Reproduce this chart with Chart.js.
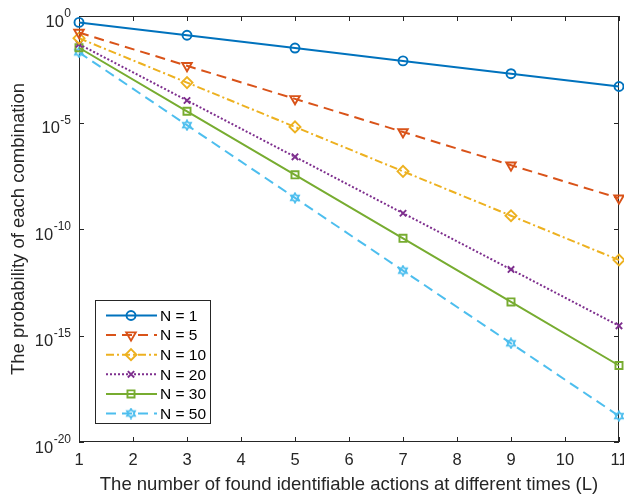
<!DOCTYPE html>
<html>
<head>
<meta charset="utf-8">
<script src="https://cdn.jsdelivr.net/npm/chart.js@4.4.0/dist/chart.umd.min.js"></script>
<style>
  html, body { margin: 0; padding: 0; background: #fff; }
  #wrap { width: 624px; height: 496px; }
</style>
</head>
<body>
<div id="wrap"><canvas id="chart" width="624" height="496"></canvas></div>
<script>
// --- data ---
const lValues = [1, 3, 5, 7, 9, 11];
const xTickValues = [1, 2, 3, 4, 5, 6, 7, 8, 9, 10, 11];
const yTickValues = [1, 1e-5, 1e-10, 1e-15, 1e-20];
const seriesNames = ['N = 1', 'N = 5', 'N = 10', 'N = 20', 'N = 30', 'N = 50'];

const probN1  = [0.5, 0.125, 0.0313, 7.8e-3, 1.95e-3, 4.9e-4];
const probN5  = [0.167, 4.6e-3, 1.29e-4, 3.6e-6, 9.9e-8, 2.8e-9];
const probN10 = [0.0909, 7.5e-4, 6.2e-6, 5.1e-8, 4.2e-10, 3.5e-12];
const probN20 = [0.0476, 1.08e-4, 2.45e-7, 5.5e-10, 1.26e-12, 2.85e-15];
const probN30 = [0.0323, 3.36e-5, 3.5e-8, 3.64e-11, 3.78e-14, 3.9e-17];
const probN50 = [0.0196, 7.5e-6, 2.9e-9, 1.11e-12, 4.3e-16, 1.65e-19];

const FONT = "'Liberation Sans', Arial, Helvetica, sans-serif";
const AXIS_COLOR = '#262626';

// hexagram marker (MATLAB 'h') as an image for pointStyle
function hexagram(color) {
  const c = document.createElement('canvas');
  c.width = 12; c.height = 12;
  const g = c.getContext('2d');
  g.strokeStyle = color;
  g.lineWidth = 1.8;
  g.beginPath();
  for (let i = 0; i < 12; i++) {
    const r = (i % 2 === 0) ? 4.6 : 2.7;
    const a = -Math.PI / 2 + i * Math.PI / 6;
    const px = 6 + r * Math.cos(a), py = 6 + r * Math.sin(a);
    if (i === 0) g.moveTo(px, py); else g.lineTo(px, py);
  }
  g.closePath();
  g.stroke();
  return c;
}

const styles = [
  { color: '#0072BD', dash: [],           point: 'circle',   radius: 4.5, rot: 0 },
  { color: '#D95319', dash: [10, 6],      point: 'triangle', radius: 5.5, rot: 180 },
  { color: '#EDB120', dash: [8, 3, 2, 3], point: 'rectRot',  radius: 5.5, rot: 0 },
  { color: '#7E2F8E', dash: [2, 2],       point: 'crossRot', radius: 4.5, rot: 0 },
  { color: '#77AC30', dash: [],           point: 'rect',     radius: 5,   rot: 0 },
  { color: '#4DBEEE', dash: [10, 6],      point: hexagram('#4DBEEE'), radius: 5, rot: 0 }
];
const allSeries = [probN1, probN5, probN10, probN20, probN30, probN50];

const datasets = allSeries.map((vals, i) => ({
  label: seriesNames[i],
  data: lValues.map((l, k) => ({ x: l, y: vals[k] })),
  borderColor: styles[i].color,
  backgroundColor: 'rgba(0,0,0,0)',
  borderWidth: 2,
  borderDash: styles[i].dash,
  pointStyle: styles[i].point,
  pointRadius: styles[i].radius,
  pointRotation: styles[i].rot,
  pointBorderWidth: 1.9,
  pointBorderColor: styles[i].color,
  pointBackgroundColor: 'rgba(0,0,0,0)',
  tension: 0,
  clip: false
}));

// frame, inward ticks, superscript y labels and a MATLAB-like legend
const matlabAxes = {
  id: 'matlabAxes',
  beforeDatasetsDraw(chart) {
    const { ctx, chartArea: a, scales } = chart;
    ctx.save();
    ctx.strokeStyle = AXIS_COLOR;
    ctx.lineWidth = 1;
    ctx.strokeRect(Math.round(a.left) + 0.5, Math.round(a.top) + 0.5,
                   Math.round(a.right - a.left) - 1, Math.round(a.bottom - a.top) - 1);
    ctx.beginPath();
    xTickValues.forEach(v => {
      const x = Math.round(scales.x.getPixelForValue(v)) + 0.5;
      ctx.moveTo(x, a.bottom); ctx.lineTo(x, a.bottom - 5);
      ctx.moveTo(x, a.top); ctx.lineTo(x, a.top + 5);
    });
    yTickValues.forEach(v => {
      const y = Math.round(scales.y.getPixelForValue(v)) + 0.5;
      ctx.moveTo(a.left, y); ctx.lineTo(a.left + 5, y);
      ctx.moveTo(a.right, y); ctx.lineTo(a.right - 5, y);
    });
    ctx.stroke();

    // y tick labels: 10 with superscript exponent
    ctx.fillStyle = AXIS_COLOR;
    ctx.textAlign = 'left';
    ctx.textBaseline = 'alphabetic';
    yTickValues.forEach(v => {
      const y = scales.y.getPixelForValue(v);
      const exp = String(Math.round(Math.log10(v)));
      ctx.font = '12px ' + FONT;
      const ew = ctx.measureText(exp).width;
      const ex = 71 - ew;
      ctx.fillText(exp, ex, y + 1);
      ctx.font = '16.5px ' + FONT;
      const bw = ctx.measureText('10').width;
      ctx.fillText('10', ex - bw - 0.5, y + 10.5);
    });
    ctx.restore();
  },
  afterDraw(chart) {
    const { ctx } = chart;
    ctx.save();
    // legend box
    ctx.fillStyle = '#fff';
    ctx.fillRect(95.5, 300.5, 115, 123);
    ctx.strokeStyle = AXIS_COLOR;
    ctx.lineWidth = 1;
    ctx.strokeRect(95.5, 300.5, 115, 123);
    chart.data.datasets.forEach((ds, i) => {
      const y = 315.5 + i * 19.6;
      ctx.strokeStyle = ds.borderColor;
      ctx.lineWidth = 2;
      ctx.setLineDash(ds.borderDash);
      ctx.beginPath();
      ctx.moveTo(106, y); ctx.lineTo(157, y);
      ctx.stroke();
      ctx.setLineDash([]);
      ctx.fillStyle = 'rgba(0,0,0,0)';
      ctx.lineWidth = ds.pointBorderWidth;
      Chart.helpers.drawPoint(ctx, {
        pointStyle: ds.pointStyle, rotation: ds.pointRotation,
        radius: ds.pointRadius, borderWidth: ds.pointBorderWidth
      }, 131, y);
      ctx.fillStyle = '#000';
      ctx.font = '15.5px ' + FONT;
      ctx.textAlign = 'left';
      ctx.textBaseline = 'middle';
      ctx.fillText(ds.label, 160, y + 1);
    });
    ctx.restore();
  }
};

new Chart(document.getElementById('chart'), {
  type: 'line',
  data: { datasets },
  plugins: [matlabAxes],
  options: {
    responsive: false,
    animation: false,
    devicePixelRatio: 1,
    layout: { autoPadding: false, padding: { left: 0, right: 5, top: 16, bottom: 0 } },
    plugins: { legend: { display: false }, tooltip: { enabled: false } },
    scales: {
      x: {
        type: 'linear', min: 1, max: 11,
        afterBuildTicks: s => { s.ticks = xTickValues.map(v => ({ value: v })); },
        grid: { display: false, drawTicks: false },
        border: { display: false },
        ticks: { color: AXIS_COLOR, font: { size: 16.5, family: FONT }, padding: 9, maxRotation: 0, autoSkip: false },
        title: {
          display: true,
          text: 'The number of found identifiable actions at different times (L)',
          color: AXIS_COLOR, font: { size: 18.5, family: FONT }, padding: { top: 0, bottom: 0 }
        },
        afterFit: s => { s.height = 54; s.paddingLeft = 0; s.paddingRight = 0; }
      },
      y: {
        type: 'logarithmic', min: 1e-20, max: 1,
        afterBuildTicks: s => { s.ticks = yTickValues.map(v => ({ value: v })); },
        grid: { display: false, drawTicks: false },
        border: { display: false },
        ticks: { display: false },
        title: {
          display: true,
          text: 'The probability of each combination',
          color: AXIS_COLOR, font: { size: 18.5, family: FONT }, padding: { top: 8, bottom: 0 }
        },
        afterFit: s => { s.width = 79; s.paddingTop = 0; s.paddingBottom = 0; }
      }
    }
  }
});
</script>
</body>
</html>
